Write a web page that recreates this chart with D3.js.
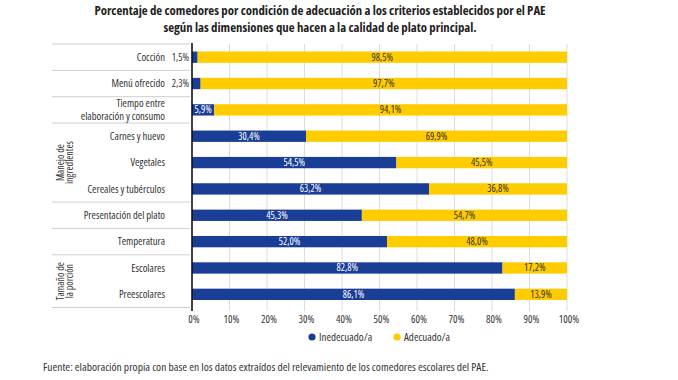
<!DOCTYPE html>
<html><head><meta charset="utf-8">
<script src="https://cdn.jsdelivr.net/npm/d3@7/dist/d3.min.js"></script>
<style>
body{margin:0;background:#fff;}
svg text{font-family:"Open Sans",sans-serif;font-stretch:75%;}
</style></head>
<body><svg id="c" width="678" height="380"></svg>
<script>
const categories = ["Cocción","Menú ofrecido","Tiempo entre\nelaboración y consumo","Carnes y huevo","Vegetales","Cereales y tubérculos","Presentación del plato","Temperatura","Escolares","Preescolares"];
const inadecuado = [1.5,2.3,5.9,30.4,54.5,63.2,45.3,52.0,82.8,86.1];
const adecuado = [98.5,97.7,94.1,69.9,45.5,36.8,54.7,48.0,17.2,13.9];
const groupLabels = [
  {label:["Manejo de","ingredientes"], first:3, last:5},
  {label:["Tamaño de","la porción"], first:8, last:9}
];
const separatorAfter = [-1,0,1,2,5,6,7,9];
const xTicks = [0,10,20,30,40,50,60,70,80,90,100];
const seriesNames = ["Inedecuado/a","Adecuado/a"];
const colors = ["#1a3d96","#ffcc00"];
const title = ["Porcentaje de comedores por condición de adecuación a los criterios establecidos por el PAE","según las dimensiones que hacen a la calidad de plato principal."];
const source = "Fuente: elaboración propia con base en los datos extraídos del relevamiento de los comedores escolares del PAE.";

const svg = d3.select("#c");
const fmt = v => d3.format(".1f")(v).replace(".", ",") + "%";

const x = d3.scaleLinear().domain([0,100]).range([192,567]);
const y = d3.scaleBand().domain(d3.range(categories.length)).range([44,307.5]).paddingInner(0.57).paddingOuter(0.285);
const step = y.step();
const rowTop = i => y(i) - y.paddingInner()*step/2;

// title
svg.append("g").selectAll("text").data(title).join("text")
  .attr("x",320).attr("y",(d,i)=>14.5+i*17).attr("text-anchor","middle")
  .attr("font-size",12.8).attr("font-weight","bold").attr("fill","#222").text(d=>d);

// gridlines
svg.append("g").selectAll("line").data(xTicks.slice(1)).join("line")
  .attr("x1",d=>x(d)).attr("x2",d=>x(d)).attr("y1",44).attr("y2",311)
  .attr("stroke","#dcdcdc").attr("stroke-width",1);

// separators
svg.append("g").selectAll("line").data(separatorAfter).join("line")
  .attr("x1",52).attr("x2",190)
  .attr("y1",d=> d<0 ? rowTop(0) : rowTop(d)+step)
  .attr("y2",d=> d<0 ? rowTop(0) : rowTop(d)+step)
  .attr("stroke","#cfcfcf").attr("stroke-width",1);

// bars
const stack = categories.map((c,i)=>[
  {s:0,i,x0:0,x1:inadecuado[i],v:inadecuado[i]},
  {s:1,i,x0:inadecuado[i],x1:inadecuado[i]+adecuado[i],v:adecuado[i]}
]).flat();
svg.append("g").selectAll("rect").data(stack).join("rect")
  .attr("x",d=>x(d.x0)).attr("width",d=>x(Math.min(d.x1,100))-x(d.x0))
  .attr("y",d=>y(d.i)).attr("height",y.bandwidth())
  .attr("fill",d=>colors[d.s]);

// value labels
const small = d => (x(d.x1)-x(d.x0))<16;
svg.append("g").selectAll("text").data(stack).join("text")
  .attr("x",d=> small(d) ? 189 : (x(d.x0)+x(Math.min(d.x1,100)))/2)
  .attr("y",d=>y(d.i)+y.bandwidth()/2+3.4)
  .attr("text-anchor",d=> small(d) ? "end" : "middle")
  .attr("font-size",10)
  .attr("fill",d=> small(d) ? "#333" : (d.s===0 ? "#fff" : "#333"))
  .text(d=>fmt(d.v));

// axis line
svg.append("line").attr("x1",192).attr("x2",192).attr("y1",43).attr("y2",311)
  .attr("stroke","#111").attr("stroke-width",1.6);

// category labels
const cl = svg.append("g").selectAll("text").data(categories).join("text")
  .attr("text-anchor","end").attr("font-size",10.6).attr("fill","#333");
cl.each(function(d,i){
  const lines = d.split("\n");
  const t = d3.select(this);
  const cy = y(i)+y.bandwidth()/2;
  lines.forEach((l,k)=>{
    t.append("tspan").attr("x",165).attr("y",cy+3.7+(k-(lines.length-1)/2)*12.5).text(l);
  });
});

// group labels
groupLabels.forEach(g=>{
  const cy = (y(g.first)+y(g.last)+y.bandwidth())/2;
  const t = svg.append("text").attr("transform",`translate(65,${cy}) rotate(-90)`)
    .attr("text-anchor","middle").attr("font-size",10).attr("fill","#333");
  g.label.forEach((l,k)=>{
    t.append("tspan").attr("x",0).attr("y",(k-0.5)*9+3.4).text(l);
  });
});

// x tick labels
svg.append("g").selectAll("text").data(xTicks).join("text")
  .attr("x",d=>x(d)+2).attr("y",322.5).attr("text-anchor","middle")
  .attr("font-size",10.5).attr("fill","#333").text(d=>d+"%");

// legend
const leg = [{x:312,t:seriesNames[0],c:colors[0]},{x:397,t:seriesNames[1],c:colors[1]}];
const lg = svg.append("g");
leg.forEach(l=>{
  lg.append("circle").attr("cx",l.x).attr("cy",337).attr("r",3.6).attr("fill",l.c);
  lg.append("text").attr("x",l.x+7).attr("y",341).attr("font-size",11).attr("fill","#333").text(l.t);
});

// source
svg.append("text").attr("x",43).attr("y",370.5).attr("font-size",11.5).attr("fill","#333").text(source);
</script></body></html>
